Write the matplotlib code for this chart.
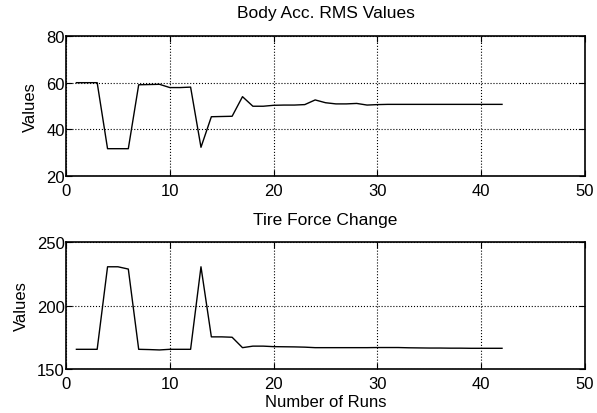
import matplotlib.pyplot as plt
import numpy as np

plt.rcParams['font.family'] = ['Liberation Sans', 'DejaVu Sans']

runs = np.arange(1, 43)

body_acc_rms = [60.0, 60.0, 60.0, 31.7, 31.7, 31.7, 59.1, 59.2, 59.3, 57.9,
                57.9, 58.1, 32.3, 45.4, 45.5, 45.6, 54.0, 49.9, 49.9, 50.3,
                50.4, 50.4, 50.6, 52.6, 51.4, 50.9, 50.9, 51.1, 50.4, 50.6,
                50.7, 50.7, 50.7, 50.7, 50.7, 50.7, 50.7, 50.7, 50.7, 50.7,
                50.7, 50.7]

tire_force = [165.5, 165.5, 165.5, 230.5, 230.5, 228.7, 165.5, 165.3, 165.0, 165.5,
              165.5, 165.5, 230.5, 175.3, 175.3, 175.0, 166.8, 168.0, 168.0, 167.6,
              167.5, 167.4, 167.2, 166.8, 166.8, 166.8, 166.8, 166.8, 166.8, 166.9,
              166.9, 166.9, 166.7, 166.6, 166.5, 166.5, 166.4, 166.4, 166.3, 166.3,
              166.3, 166.3]

fig = plt.figure(figsize=(5.97, 4.14), dpi=100)
ax1 = fig.add_axes([0.1106, 0.5725, 0.8694, 0.3381])
ax2 = fig.add_axes([0.1106, 0.1063, 0.8694, 0.3067])


def style(ax, ylim, yticks):
    ax.set_xlim(0, 50)
    ax.set_ylim(*ylim)
    ax.set_xticks([0, 10, 20, 30, 40, 50])
    ax.set_yticks(yticks)
    ax.grid(True, color='black', linestyle=':', linewidth=0.8)
    ax.tick_params(direction='in', top=True, right=True, labelsize=12,
                   length=4, pad=1)
    ax.tick_params(axis='x', pad=5)
    for s in ax.spines.values():
        s.set_linewidth(1.2)
    ax.set_ylabel('Values', fontsize=12, labelpad=6)


ax1.plot(runs, body_acc_rms, color='black', linewidth=1)
style(ax1, (20, 80), [20, 40, 60, 80])
ax1.set_title('Body Acc. RMS Values', fontsize=12.5, pad=14)

ax2.plot(runs, tire_force, color='black', linewidth=1)
style(ax2, (150, 250), [150, 200, 250])
ax2.set_title('Tire Force Change', fontsize=12.5, pad=13)
ax2.set_xlabel('Number of Runs', fontsize=12, labelpad=2)

fig.savefig('out.png', dpi=100)
